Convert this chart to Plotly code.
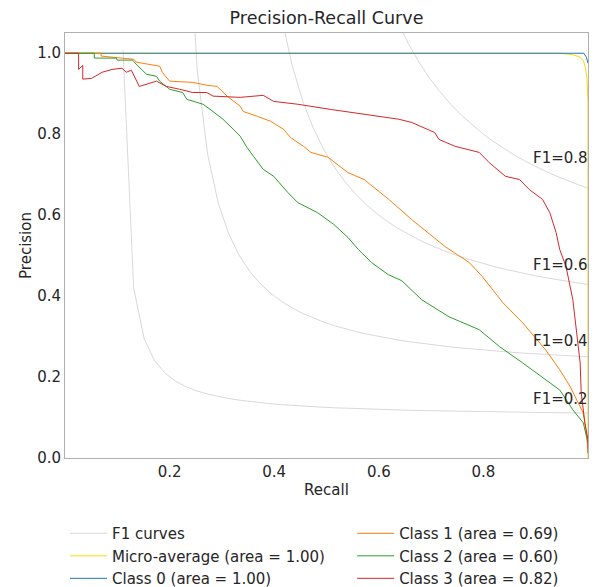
import numpy as np
import plotly.graph_objects as go

# --- Values ---
f1_levels = [0.2, 0.4, 0.6, 0.8]

micro_recall = [0.0, 0.942, 0.962, 0.975, 0.985, 0.991, 0.995, 0.998, 1.0, 1.0]
micro_precision = [1.0, 1.0, 0.998, 0.995, 0.99, 0.982, 0.965, 0.94, 0.88, 0.0]

class0_recall = [0.0, 0.992, 0.997, 1.0]
class0_precision = [1.0, 1.0, 0.99, 0.975]

class1_recall = [0.0, 0.069, 0.069, 0.132, 0.136, 0.161, 0.181, 0.186, 0.200, 0.244,
                 0.271, 0.291, 0.310, 0.335, 0.341, 0.368, 0.393, 0.418, 0.431, 0.456,
                 0.470, 0.503, 0.541, 0.572, 0.619, 0.663, 0.727, 0.773, 0.798, 0.837,
                 0.875, 0.919, 0.946, 0.966, 0.991, 0.996, 1.0]
class1_precision = [1.0, 1.0, 0.993, 0.985, 0.978, 0.973, 0.968, 0.953, 0.931, 0.928,
                    0.921, 0.918, 0.894, 0.869, 0.856, 0.844, 0.832, 0.812, 0.792, 0.770,
                    0.755, 0.743, 0.705, 0.688, 0.639, 0.589, 0.522, 0.483, 0.448, 0.384,
                    0.334, 0.267, 0.218, 0.176, 0.111, 0.069, 0.020]

class2_recall = [0.0, 0.056, 0.056, 0.098, 0.100, 0.129, 0.136, 0.146, 0.156, 0.175,
                 0.181, 0.200, 0.225, 0.233, 0.264, 0.283, 0.302, 0.322, 0.335, 0.348,
                 0.360, 0.379, 0.399, 0.426, 0.445, 0.483, 0.514, 0.541, 0.561, 0.586,
                 0.618, 0.644, 0.682, 0.734, 0.792, 0.831, 0.875, 0.913, 0.946, 0.971,
                 0.991, 1.0]
class2_precision = [1.0, 1.0, 0.988, 0.988, 0.983, 0.983, 0.973, 0.960, 0.948, 0.943,
                    0.931, 0.911, 0.903, 0.886, 0.874, 0.856, 0.837, 0.812, 0.795, 0.767,
                    0.745, 0.713, 0.696, 0.656, 0.631, 0.606, 0.577, 0.545, 0.515, 0.483,
                    0.453, 0.438, 0.391, 0.349, 0.317, 0.275, 0.235, 0.200, 0.168, 0.119,
                    0.087, 0.037]

class3_recall = [0.0, 0.026, 0.026, 0.034, 0.034, 0.051, 0.071, 0.090, 0.109, 0.117,
                 0.127, 0.138, 0.142, 0.175, 0.194, 0.219, 0.244, 0.271, 0.283, 0.335,
                 0.379, 0.399, 0.445, 0.509, 0.572, 0.638, 0.663, 0.707, 0.715, 0.746,
                 0.792, 0.811, 0.842, 0.869, 0.888, 0.913, 0.927, 0.939, 0.946, 0.958,
                 0.971, 0.977, 0.985, 0.987, 0.994, 1.0, 1.0]
class3_precision = [1.0, 1.0, 0.960, 0.970, 0.936, 0.938, 0.953, 0.960, 0.963, 0.953,
                    0.958, 0.931, 0.918, 0.931, 0.918, 0.911, 0.903, 0.903, 0.894, 0.891,
                    0.896, 0.881, 0.874, 0.861, 0.849, 0.837, 0.829, 0.804, 0.787, 0.770,
                    0.755, 0.730, 0.696, 0.688, 0.663, 0.639, 0.606, 0.557, 0.515, 0.473,
                    0.391, 0.317, 0.235, 0.161, 0.087, 0.045, 0.012]

classes = [
    ("Class 0 (area = 1.00)", class0_recall, class0_precision, "#1f77b4", "legend"),
    ("Class 1 (area = 0.69)", class1_recall, class1_precision, "#ff7f0e", "legend2"),
    ("Class 2 (area = 0.60)", class2_recall, class2_precision, "#2ca02c", "legend2"),
    ("Class 3 (area = 0.82)", class3_recall, class3_precision, "#d62728", "legend2"),
]

text_col = "#262626"
font = "DejaVu Sans, Verdana, sans-serif"

fig = go.Figure()

# iso-F1 curves
x_f1 = np.linspace(0.01, 1, 50)
for i, f in enumerate(f1_levels):
    y_f1 = f * x_f1 / (2 * x_f1 - f)
    keep = y_f1 >= 0
    fig.add_trace(go.Scatter(x=x_f1[keep], y=y_f1[keep], mode="lines",
                             line=dict(color="#d9d9d9", width=1),
                             name="F1 curves", legendgroup="f1",
                             showlegend=(i == 0), legend="legend", hoverinfo="skip"))
    fig.add_annotation(x=0.9, y=y_f1[45] + 0.02, text=f"F1={f:0.1f}", showarrow=False,
                       xanchor="left", yanchor="bottom", yshift=-6, xshift=-5,
                       font=dict(size=15, color=text_col))

fig.add_trace(go.Scatter(x=micro_recall, y=micro_precision, mode="lines",
                         line=dict(color="gold", width=1),
                         name="Micro-average (area = 1.00)", legend="legend"))

for name, r, p, c, lg in classes:
    fig.add_trace(go.Scatter(x=r, y=p, mode="lines", line=dict(color=c, width=1),
                             name=name, legend=lg))

axis_common = dict(showline=True, mirror=True, linecolor="#b0b0b0", linewidth=1,
                   showgrid=False, zeroline=False, ticks="",
                   tickfont=dict(size=15, color=text_col),
                   title_font=dict(size=15, color=text_col))

fig.update_xaxes(range=[0, 1.0], tickvals=[0.2, 0.4, 0.6, 0.8],
                 ticktext=["0.2", "0.4", "0.6", "0.8"],
                 title_text="Recall", title_standoff=4, **axis_common)
fig.update_yaxes(range=[0, 1.05], tickvals=[0, 0.2, 0.4, 0.6, 0.8, 1.0],
                 ticktext=["0.0", "0.2", "0.4", "0.6", "0.8", "1.0"],
                 title_text="Precision", title_standoff=1, **axis_common)

legend_common = dict(orientation="v", yanchor="top", xanchor="left",
                     font=dict(size=15, color=text_col), itemwidth=37,
                     tracegroupgap=0, bgcolor="rgba(0,0,0,0)")

fig.update_layout(
    width=601, height=587,
    margin=dict(l=65, r=13, t=33, b=129, autoexpand=False),
    paper_bgcolor="white", plot_bgcolor="white",
    font=dict(family=font, color=text_col),
    title=dict(text="Precision-Recall Curve", x=0.5, xref="paper", xanchor="center",
               y=0.969, yanchor="middle", font=dict(size=17.5, color=text_col)),
    legend=dict(x=0.0, y=-0.139, **legend_common),
    legend2=dict(x=0.549, y=-0.139, **legend_common),
    showlegend=True,
)

fig.write_html("out.html", config={"displayModeBar": False},
               post_script="document.body.style.margin='0';"
                           "document.body.style.overflow='hidden';")
